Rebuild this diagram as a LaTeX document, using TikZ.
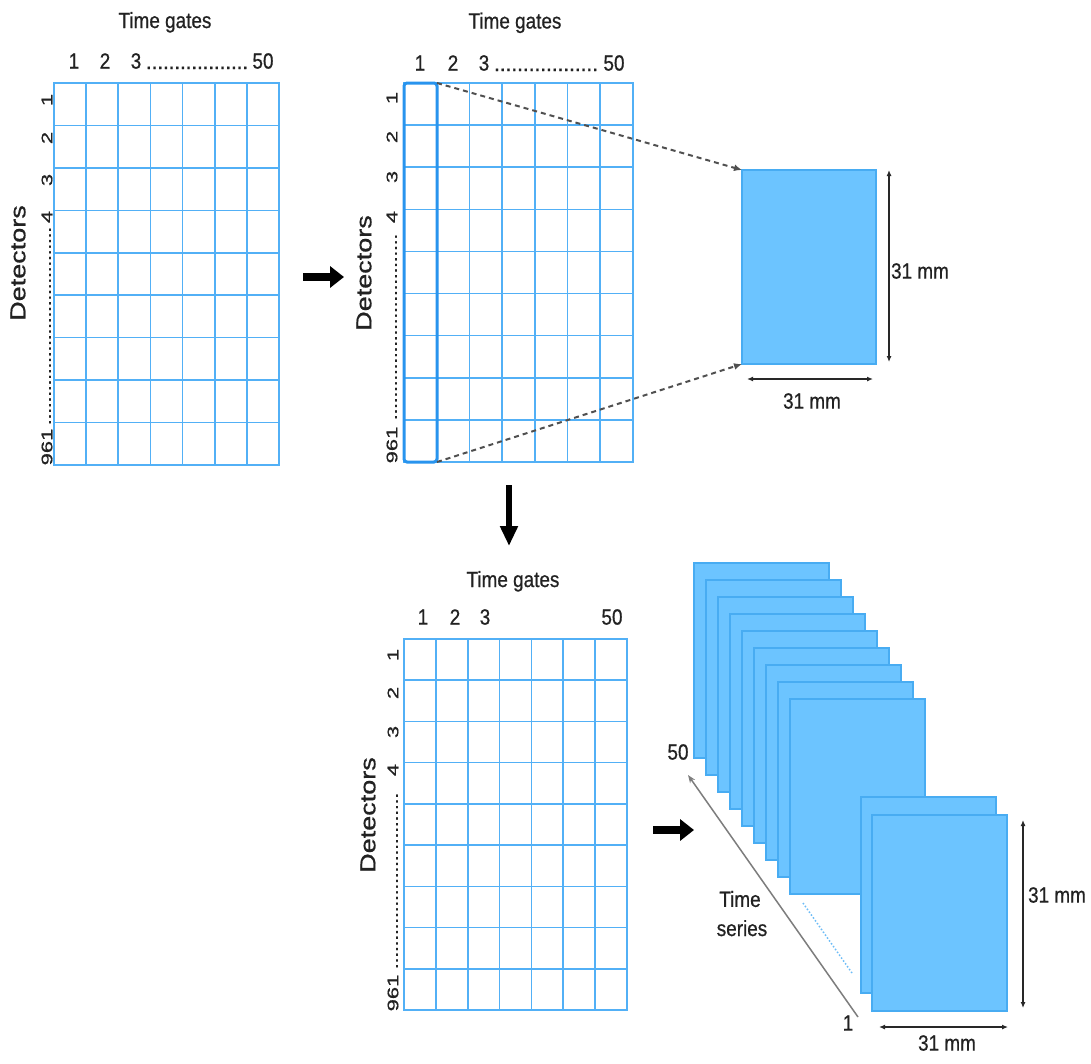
\documentclass[tikz,border=0pt]{standalone}
\usepackage{fontspec}
\setmainfont{Liberation Sans}
\newfontfamily\labfont{Liberation Sans}[FakeBold=0.7]
\usepackage{graphicx}
\usetikzlibrary{arrows.meta,calc}

\definecolor{gridblue}{RGB}{82,176,246}
\definecolor{selblue}{RGB}{40,148,238}
\definecolor{tilefill}{RGB}{108,196,255}
\definecolor{tileedge}{RGB}{72,172,242}
\definecolor{connector}{RGB}{80,80,80}
\definecolor{axisgrey}{RGB}{125,125,125}
\definecolor{dimline}{RGB}{40,40,40}
\definecolor{labink}{RGB}{34,34,34}

% upright label, slightly condensed
\newcommand\lbl[1]{\scalebox{0.86}[1]{\fontsize{22}{26}\labfont #1}}
% label turned to read upwards, condensed across its width
\newcommand\vlbl[2]{\scalebox{#1}[1]{\rotatebox{90}{\fontsize{22}{26}\labfont #2}}}
% a run of dots of given length
\newcommand\dotsrun[1]{\hbox to #1{\xleaders\hbox to 5.6pt{\hss.\hss}\hfill}}

% detector x time-gate table: name, left, top, width, height
\newcommand\datagrid[5]{%
  \node[gridframe, minimum width=#4pt, minimum height=#5pt, anchor=north west] (#1) at (#2,#3) {};
  \foreach \k in {1,...,6}
    \draw[gridline] ($(#1.north west)!\k/7!(#1.north east)$) -- ($(#1.south west)!\k/7!(#1.south east)$);
  \foreach \k in {1,...,8}
    \draw[gridline] ($(#1.north west)!\k/9!(#1.south west)$) -- ($(#1.north east)!\k/9!(#1.south east)$);
}

\tikzset{
  gridframe/.style={draw=gridblue, line width=1.6pt, inner sep=0pt, outer sep=0pt},
  gridline/.style={draw=gridblue, line width=1.6pt},
  selbox/.style={draw=selblue, line width=3pt, rounded corners=3pt, inner sep=0pt, outer sep=0pt},
  tile/.style={fill=tilefill, draw=tileedge, line width=1.2pt, inner sep=0pt, outer sep=0pt,
               minimum width=135pt, minimum height=195pt, anchor=north west},
  lab/.style={inner sep=0pt, outer sep=0pt, text=labink},
  guide/.style={draw=connector, line width=2pt, dash pattern=on 5pt off 4pt,
                -{Latex[length=8pt,width=7pt]}},
  dimarrow/.style={draw=dimline, line width=1.3pt,
                   {Latex[length=6pt,width=5pt]}-{Latex[length=6pt,width=5pt]}},
  bigarrow/.style={line width=8pt, -{Triangle[length=14pt,width=21pt]}},
  axisline/.style={draw=axisgrey, line width=1.5pt, -{Stealth[length=8pt,width=6pt]}},
}

\begin{document}
\begin{tikzpicture}[x=1pt, y=-1pt]
\fill[white] (0,0) rectangle (1091,1063);
\useasboundingbox (0,0) rectangle (1091,1063);

% ---------- table 1 ----------
\datagrid{g1}{54}{83}{225}{382}
\node[lab, anchor=base] (tg1) at (165,28) {\lbl{Time gates}};
\node[lab] (g1c1) at (74,61) {\lbl{1}};
\node[lab] (g1c2) at (105,61) {\lbl{2}};
\node[lab] (g1c3) at (136,61) {\lbl{3}};
\node[lab, anchor=base west] (g1cd) at (146,69) {\fontsize{22}{26}\labfont\dotsrun{102pt}};
\node[lab] (g1c50) at (263,61) {\lbl{50}};
\node[lab] (g1r1) at (47,100) {\vlbl{0.7}{1}};
\node[lab] (g1r2) at (47,138) {\vlbl{0.7}{2}};
\node[lab] (g1r3) at (47,180) {\vlbl{0.7}{3}};
\node[lab] (g1r4) at (47,217) {\vlbl{0.7}{4}};
\node[lab] (g1rd) at (50,326) {\scalebox{0.7}[1]{\rotatebox{90}{\fontsize{22}{26}\labfont\dotsrun{198pt}}}};
\node[lab] (g1r961) at (47,447) {\vlbl{0.7}{961}};
\node[lab] (det1) at (18,263) {\scalebox{0.8}[1]{\rotatebox{90}{\fontsize{27}{30}\labfont Detectors}}};

% ---------- table 2 with the first time gate selected ----------
\datagrid{g2}{404}{83}{229}{379}
\node[selbox, minimum width=33pt, minimum height=379pt, anchor=north west] (sel) at (404,83) {};
\node[lab, anchor=base] (tg2) at (515,28.5) {\lbl{Time gates}};
\node[lab] (g2c1) at (420,63) {\lbl{1}};
\node[lab] (g2c2) at (453,63) {\lbl{2}};
\node[lab] (g2c3) at (484,63) {\lbl{3}};
\node[lab, anchor=base west] (g2cd) at (494,71) {\fontsize{22}{26}\labfont\dotsrun{104pt}};
\node[lab] (g2c50) at (614,63) {\lbl{50}};
\node[lab] (g2r1) at (392,98) {\vlbl{0.7}{1}};
\node[lab] (g2r2) at (392,137) {\vlbl{0.7}{2}};
\node[lab] (g2r3) at (392,177) {\vlbl{0.7}{3}};
\node[lab] (g2r4) at (392,217) {\vlbl{0.7}{4}};
\node[lab] (g2rd) at (396,327) {\scalebox{0.7}[1]{\rotatebox{90}{\fontsize{22}{26}\labfont\dotsrun{186pt}}}};
\node[lab] (g2r961) at (392,445) {\vlbl{0.7}{961}};
\node[lab] (det2) at (364,273) {\scalebox{0.8}[1]{\rotatebox{90}{\fontsize{27}{30}\labfont Detectors}}};

% one time gate as an image
\node[tile, minimum width=134pt, minimum height=194pt] (pix) at (742,170) {};
\draw[guide] (sel.north east) -- (pix.north west);
\draw[guide] (sel.south east) -- (pix.south west);
\draw[dimarrow] ([xshift=13pt]pix.north east) -- ([xshift=13pt,yshift=2pt]pix.south east);
\draw[dimarrow] ([xshift=5pt,yshift=-15pt]pix.south west) -- ([xshift=-3pt,yshift=-15pt]pix.south east);
\node[lab] (pixh) at (920,271) {\lbl{31 mm}};
\node[lab] (pixw) at (812,401) {\lbl{31 mm}};

% ---------- process arrows ----------
\coordinate (m1a) at (303,277);
\coordinate (m1b) at (344,277);
\draw[bigarrow] (m1a) -- (m1b);
\coordinate (m2a) at (509,485);
\coordinate (m2b) at (509,546);
\draw[line width=6pt, -{Triangle[length=20pt,width=17pt]}] (m2a) -- (m2b);
\coordinate (m3a) at (653,830);
\coordinate (m3b) at (694,830);
\draw[bigarrow] (m3a) -- (m3b);

% ---------- table 3 ----------
\datagrid{g3}{404}{639}{223}{371}
\node[lab, anchor=base] (tg3) at (513,587) {\lbl{Time gates}};
\node[lab] (g3c1) at (423,617) {\lbl{1}};
\node[lab] (g3c2) at (455,617) {\lbl{2}};
\node[lab] (g3c3) at (485,617) {\lbl{3}};
\node[lab] (g3c50) at (612,617) {\lbl{50}};
\node[lab] (g3r1) at (393,655) {\vlbl{0.7}{1}};
\node[lab] (g3r2) at (393,693) {\vlbl{0.7}{2}};
\node[lab] (g3r3) at (393,732) {\vlbl{0.7}{3}};
\node[lab] (g3r4) at (393,770) {\vlbl{0.7}{4}};
\node[lab] (g3rd) at (397,881) {\scalebox{0.7}[1]{\rotatebox{90}{\fontsize{22}{26}\labfont\dotsrun{176pt}}}};
\node[lab] (g3r961) at (393,993) {\vlbl{0.7}{961}};
\node[lab] (det3) at (368,815) {\scalebox{0.8}[1]{\rotatebox{90}{\fontsize{27}{30}\labfont Detectors}}};

% ---------- stack of images over time ----------
\foreach \i in {0,...,8}
  \node[tile] (s\i) at ({694+12*\i},{563+17*\i}) {};
\node[tile, minimum height=196pt] (f1) at (861,797) {};
\node[tile, minimum height=196pt] (f2) at (872,815) {};

\draw[dimarrow] ([xshift=16pt,yshift=-5pt]f2.north east) -- ([xshift=16pt,yshift=3pt]f2.south east);
\draw[dimarrow] ([xshift=7pt,yshift=-16pt]f2.south west) -- ([xshift=1pt,yshift=-16pt]f2.south east);
\node[lab] (fh) at (1057,895) {\lbl{31 mm}};
\node[lab] (fw) at (947,1043) {\lbl{31 mm}};

% time axis
\coordinate (ts1) at (858,1017);
\coordinate (ts50) at (688,775);
\draw[axisline] (ts1) -- (ts50);
\node[lab] (t50) at (678,752) {\lbl{50}};
\node[lab] (t1) at (848,1023) {\lbl{1}};
\node[lab] (tTime) at (740,899) {\lbl{Time}};
\node[lab, anchor=base] (tSeries) at (742,936) {\lbl{series}};

% skipped frames
\coordinate (gapa) at (803,903);
\coordinate (gapb) at (852,973);
\draw[gridblue!85, line width=1.5pt, dotted] (gapa) -- (gapb);
\end{tikzpicture}
\end{document}
